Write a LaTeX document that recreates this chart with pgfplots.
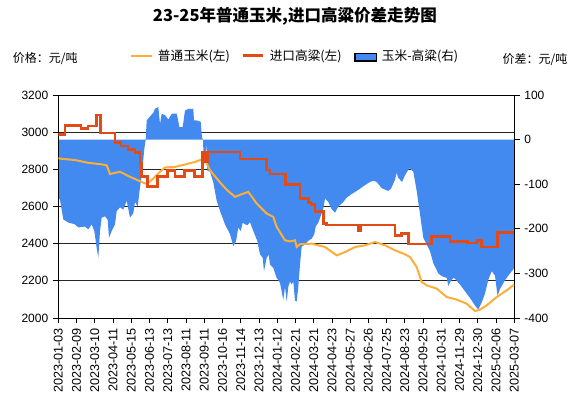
\documentclass[border=0pt]{standalone}
\usepackage{pgfplots}
\pgfplotsset{compat=1.18}
\usepackage{fontspec}
\setmainfont{Liberation Sans}
\newfontfamily\cjk{Noto Sans CJK SC}

\definecolor{cornline}{RGB}{252,174,56}
\definecolor{sorgline}{RGB}{226,74,22}
\definecolor{spreadfill}{RGB}{66,137,240}

\pgfplotsset{
  base/.style={
    at={(43.725pt,61.5pt)}, anchor=south west,
    scale only axis, width=342pt, height=167.25pt,
    xmin=0, xmax=25,
    tick align=outside, major tick length=4pt,
    tick style={black, line width=0.6pt},
    axis line style={black, line width=0.7pt},
    ticklabel style={font=\fontsize{9}{10}\selectfont},
  },
}

\begin{document}
\begin{tikzpicture}
\begin{scope}[x=0.75pt,y=0.75pt]
  \useasboundingbox (0,0) rectangle (575,400);
\end{scope}

% left scale: grid and date axis
\begin{axis}[base,
  ymin=2000, ymax=3200,
  ytick={2000,2200,2400,2600,2800,3000,3200},
  yticklabels={2000,2200,2400,2600,2800,3000,3200},
  ytick pos=left, xtick pos=left,
  ymajorgrids, grid style={black!85, line width=0.7pt},
  xtick={0,...,25},
  xticklabels={2023-01-03,2023-02-09,2023-03-10,2023-04-11,2023-05-15,2023-06-13,
    2023-07-13,2023-08-11,2023-09-11,2023-10-16,2023-11-14,2023-12-13,2024-01-12,
    2024-02-21,2024-03-21,2024-04-23,2024-05-27,2024-06-26,2024-07-25,2024-08-23,
    2024-09-25,2024-10-31,2024-11-29,2024-12-30,2025-02-06,2025-03-07},
  xticklabel style={rotate=90, anchor=east, font=\fontsize{9.5}{10}\selectfont},
]
\end{axis}

% right scale: spread area
\begin{axis}[base,
  ymin=-400, ymax=100,
  ytick={-400,-300,-200,-100,0,100},
  yticklabels={-400,-300,-200,-100,0,100},
  axis y line*=right, axis x line=none,
]
\addplot[fill=spreadfill, draw=none] coordinates {
(0,0) (0,-130) (0.093,-135) (0.274,-179) (0.548,-186) (0.916,-190) (1.096,-197)
(1.464,-195) (1.645,-201) (1.831,-190) (1.974,-205) (2.105,-243) (2.193,-265)
(2.286,-205) (2.379,-175) (2.56,-172) (2.708,-180) (2.78,-220) (2.928,-205)
(3.109,-190) (3.202,-160) (3.383,-152) (3.564,-157) (3.75,-137) (3.931,-175)
(4.112,-165) (4.205,-140) (4.353,-150) (4.479,-107) (4.605,-70) (4.715,-21)
(4.792,0) (4.846,43) (5.027,52) (5.208,60) (5.302,69) (5.482,73) (5.576,35)
(5.669,58) (5.85,55) (6.031,45) (6.217,58) (6.491,58) (6.562,45) (6.634,28)
(6.82,28) (6.946,65) (7.127,69) (7.401,69) (7.44,43) (7.588,43) (7.807,40)
(7.878,5) (7.933,0) (7.95,-21) (8.043,-55) (8.136,-10) (8.169,-70) (8.317,-72)
(8.498,-96) (8.684,-137) (8.865,-160) (9.139,-190) (9.414,-212) (9.594,-239)
(9.742,-228) (9.868,-197) (10,-205) (10.11,-186) (10.236,-190) (10.362,-192)
(10.51,-185) (10.691,-205) (10.91,-227) (11.058,-257) (11.206,-265) (11.277,-295)
(11.425,-265) (11.535,-258) (11.607,-280) (11.787,-288) (11.974,-310) (12.155,-321)
(12.336,-359) (12.429,-330) (12.522,-363) (12.61,-330) (12.703,-318) (12.796,-325)
(12.884,-318) (12.977,-361) (13.07,-363) (13.158,-330) (13.251,-280) (13.344,-240)
(13.525,-235) (13.706,-227) (13.893,-222) (14.035,-212) (14.112,-195) (14.254,-186)
(14.441,-165) (14.529,-155) (14.622,-132) (14.803,-140) (14.989,-156) (15.17,-164)
(15.351,-150) (15.625,-140) (15.811,-130) (16.086,-122) (16.36,-115) (16.541,-110)
(16.815,-102) (17.089,-95) (17.27,-92) (17.456,-95) (17.73,-109) (17.911,-112)
(18.092,-115) (18.24,-110) (18.35,-100) (18.46,-90) (18.553,-74) (18.624,-85)
(18.843,-95) (19.008,-80) (19.244,-64) (19.463,-72) (19.649,-115) (19.83,-167)
(20.011,-220) (20.197,-235) (20.378,-250) (20.559,-277) (20.833,-300) (21.019,-306)
(21.294,-310) (21.382,-328) (21.475,-320) (21.656,-310) (21.749,-312) (22.023,-325)
(22.297,-340) (22.571,-355) (22.846,-372) (23.026,-381) (23.213,-365) (23.394,-345)
(23.575,-314) (23.761,-295) (23.942,-305) (24.079,-350) (24.216,-335) (24.49,-315)
(24.764,-300) (25,-288) (25,0)
} -- cycle;
\end{axis}

% left scale: price lines and frame
\begin{axis}[base,
  ymin=2000, ymax=3200,
  xtick=\empty, ytick=\empty,
]
\addplot[cornline, line width=1.5pt] coordinates {
(0,2859) (0.367,2855) (0.916,2850) (1.645,2835) (2.286,2828) (2.654,2822)
(2.834,2775) (3.383,2787) (3.931,2760) (4.479,2736) (4.753,2724) (5.027,2735)
(5.302,2760) (5.576,2787) (5.85,2810) (6.398,2813) (6.946,2826) (7.495,2840)
(7.862,2853) (8.043,2850) (8.317,2796) (8.481,2775) (8.865,2730) (9.232,2690)
(9.688,2652) (10.055,2666) (10.417,2679) (10.877,2616) (11.425,2562) (11.787,2544)
(11.973,2490) (12.429,2418) (12.703,2412) (12.977,2418) (13.07,2382) (13.251,2397)
(13.893,2400) (14.622,2382) (15.263,2337) (15.718,2355) (16.267,2382) (16.815,2391)
(17.363,2409) (17.911,2391) (18.46,2364) (19.008,2343) (19.282,2328) (19.649,2274)
(19.923,2194) (20.197,2176) (20.746,2158) (21.294,2113) (21.842,2099) (22.39,2077)
(22.846,2037) (23.12,2045) (23.487,2068) (24.035,2113) (24.583,2149) (25,2180)
};
\addplot[sorgline, line width=2pt, const plot] coordinates {
(0,2988) (0.367,3035) (1.245,3020) (1.628,3033) (2.094,3092) (2.314,2995)
(3.109,2945) (3.438,2925) (3.822,2908) (4.205,2889) (4.479,2832) (4.572,2760)
(4.901,2706) (5.45,2760) (5.998,2792) (6.398,2760) (6.908,2792) (7.456,2760)
(7.895,2894) (8.081,2840) (8.207,2894) (9.962,2855) (11.425,2796) (11.607,2775)
(12.456,2720) (13.251,2643) (13.706,2622) (13.854,2610) (14.074,2573) (14.529,2508)
(14.715,2500) (16.431,2472) (16.568,2500) (18.46,2443) (18.827,2453) (19.189,2398)
(20.471,2438) (21.475,2412) (22.434,2403) (22.955,2418) (23.213,2382) (24.079,2460)
(25,2460)
};
\end{axis}

\begin{scope}[x=0.75pt,y=0.75pt]
  \node[font={\cjk\bfseries\fontsize{12.4}{14}\selectfont}] at (294.9,383.3)
    {23-25年普通玉米,进口高粱价差走势图};
  \node[anchor=west, inner sep=0, font={\cjk\fontsize{9}{10}\selectfont}] at (12.7,341.5)
    {价格：元/吨};
  \node[anchor=east, inner sep=0, font={\cjk\fontsize{9}{10}\selectfont}] at (567.7,340)
    {价差：元/吨};
  \draw[cornline, line width=1.5pt] (131,344.3) -- (151.7,344.3);
  \node[anchor=west, inner sep=0, font={\cjk\fontsize{9.5}{10}\selectfont}] at (157.7,343.3)
    {普通玉米(左)};
  \draw[sorgline, line width=2pt] (242.7,344.3) -- (263.3,344.3);
  \node[anchor=west, inner sep=0, font={\cjk\fontsize{9.5}{10}\selectfont}] at (269.5,343.3)
    {进口高粱(左)};
  \draw[fill=spreadfill, draw=black, line width=1pt] (355,339) rectangle (376.7,346.7);
  \node[anchor=west, inner sep=0, font={\cjk\fontsize{9.5}{10}\selectfont}] at (381.7,343.3)
    {玉米-高粱(右)};
\end{scope}
\end{tikzpicture}
\end{document}
